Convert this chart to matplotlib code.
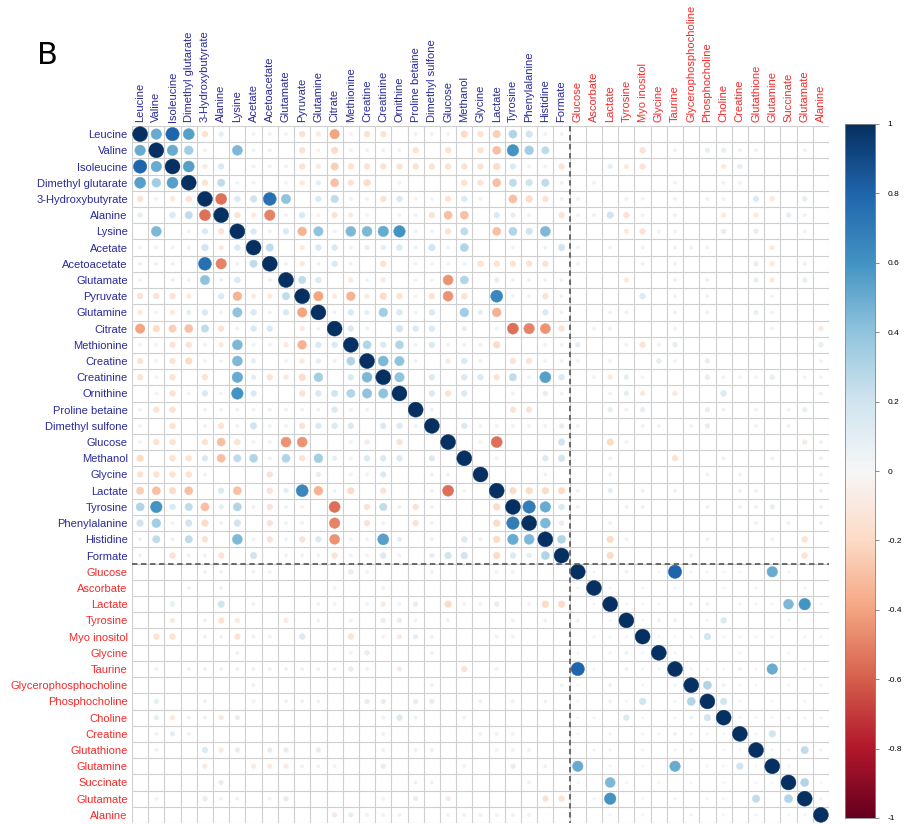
import numpy as np
import matplotlib
matplotlib.use("Agg")
import matplotlib.pyplot as plt
from matplotlib.patches import Circle
from matplotlib.colors import Normalize

blue_names = ["Leucine", "Valine", "Isoleucine", "Dimethyl glutarate", "3-Hydroxybutyrate",
              "Alanine", "Lysine", "Acetate", "Acetoacetate", "Glutamate", "Pyruvate",
              "Glutamine", "Citrate", "Methionine", "Creatine", "Creatinine", "Ornithine",
              "Proline betaine", "Dimethyl sulfone", "Glucose", "Methanol", "Glycine",
              "Lactate", "Tyrosine", "Phenylalanine", "Histidine", "Formate"]
red_names = ["Glucose", "Ascorbate", "Lactate", "Tyrosine", "Myo inositol", "Glycine",
             "Taurine", "Glycerophosphocholine", "Phosphocholine", "Choline", "Creatine",
             "Glutathione", "Glutamine", "Succinate", "Glutamate", "Alanine"]

# lower triangle of the correlation matrix, row i holds columns 0..i-1
lower = [
    [],
    [.5],
    [.8, .5],
    [.55, .35, .55],
    [-.15, -.05, -.1, -.15],
    [.1, 0, .15, .25, -.55],
    [0, .45, 0, .05, .15, -.15],
    [-.05, .05, -.05, .05, .2, -.1, .15],
    [.05, .05, .05, 0, .75, -.5, .05, .25],
    [-.05, 0, .05, -.05, .4, .05, .15, 0, .05],
    [-.15, -.15, -.15, -.1, 0, .15, -.35, -.1, -.1, .25],
    [-.1, -.05, -.1, .1, .15, -.05, .4, .15, .05, .15, -.4],
    [-.4, -.2, -.25, -.3, .25, -.15, .05, .15, .15, 0, -.1, .05],
    [-.05, .05, -.15, -.15, .05, -.1, .45, .05, .05, -.1, -.35, .15, .15],
    [-.15, .05, -.15, -.2, .05, -.05, .45, .1, 0, .05, -.1, .1, .05, .3],
    [-.15, .05, -.15, 0, -.15, 0, .5, .1, -.15, -.1, -.2, .35, 0, .15, .45],
    [0, .05, -.15, -.05, .15, -.05, .6, .15, 0, 0, -.15, .15, .2, .3, .4, .4],
    [-.05, -.15, -.15, 0, -.05, .05, .05, .05, .05, .05, -.05, .05, .15, .05, .05, 0, 0],
    [-.05, 0, -.15, 0, .05, -.15, .05, .2, .05, .05, -.15, .15, .15, .15, 0, .15, .15, .05],
    [-.05, -.15, -.15, 0, -.15, -.3, -.15, .05, .05, -.45, -.45, 0, 0, .05, -.1, 0, -.15, 0, 0],
    [-.2, 0, -.15, -.15, .15, -.3, .25, .3, .05, .3, -.15, .35, .1, .05, .15, .15, .15, 0, .15, 0],
    [-.15, -.15, -.15, -.15, -.05, 0, 0, 0, -.15, 0, 0, .1, 0, .05, .05, .15, 0, 0, .05, -.05, 0],
    [-.25, -.3, -.2, -.3, 0, .15, -.3, 0, -.15, .1, .65, -.35, .05, -.2, 0, -.15, 0, 0, .05, -.55,
     -.05, 0],
    [.3, .6, .15, .25, -.3, .1, .3, -.05, -.15, .05, -.05, 0, -.55, 0, -.15, .25, .05, -.15, .05, 0,
     0, 0, -.2],
    [.2, .35, .05, .2, -.2, .05, .2, 0, -.15, .05, -.05, 0, -.5, 0, -.15, .05, 0, -.15, .05, 0,
     0, 0, -.2, .7],
    [.05, .25, .05, .25, -.15, 0, .45, .05, -.15, .05, -.15, .15, -.45, .05, .05, .55, .1, 0, .05, 0,
     .15, .05, -.2, .5, .45],
    [.05, 0, -.15, .05, .05, -.15, 0, .2, 0, -.05, -.05, .05, -.15, .05, -.05, .15, -.05, 0, .1, .2,
     .2, 0, -.2, .15, .1, .3],
    # red block rows: 27 blue columns, then red columns
    [0, 0, 0, 0, .05, -.05, 0, .05, -.05, 0, 0, 0, 0, .1, .05, 0, 0, 0, .05, 0, 0, 0, -.05, .05, 0, 0, 0],
    [0, 0, 0, .05, 0, .05, 0, 0, 0, 0, 0, 0, -.05, 0, 0, .05, 0, 0, 0, 0, 0, 0, 0, 0, 0, 0, 0,
     .03],
    [0, 0, .1, 0, 0, .2, 0, .05, 0, 0, 0, .05, .05, 0, .05, -.1, .05, .1, 0, -.2, .05, .05, .1, 0, .05, -.2, -.2,
     0, .03],
    [0, 0, -.1, 0, .05, -.15, -.1, 0, 0, -.1, 0, .05, 0, .05, 0, .1, .1, -.05, 0, .05, 0, 0, 0, .05, 0, .05, 0,
     .05, 0, .03],
    [0, -.15, -.15, 0, -.05, .05, -.15, .05, -.05, 0, .15, 0, 0, -.15, 0, -.05, -.1, .1, .05, 0, 0, 0, .05, -.05, 0, 0, 0,
     0, .03, .03, .03],
    [0, 0, 0, 0, 0, 0, .05, 0, 0, 0, 0, 0, 0, -.05, .1, 0, 0, 0, .05, 0, 0, 0, 0, 0, 0, 0, 0,
     .03, 0, .03, .05, .03],
    [0, .05, 0, .05, .05, .05, .05, .05, -.05, .05, .05, .05, .05, .1, .05, 0, -.1, 0, 0, 0, -.15, 0, .05, 0, 0, 0, 0,
     .8, .03, 0, .05, .03, .03],
    [0, 0, 0, 0, 0, 0, 0, .05, 0, 0, 0, 0, 0, 0, 0, 0, 0, 0, .05, 0, 0, 0, 0, 0, 0, 0, .05,
     .03, 0, .05, 0, .03, 0, .03],
    [0, .1, 0, 0, .05, 0, 0, .05, 0, .05, .05, .05, 0, 0, .1, .1, 0, .1, .1, 0, 0, .05, 0, .05, 0, .05, 0,
     .03, 0, .05, .03, .2, 0, .03, .3],
    [0, .1, -.1, .05, .05, -.1, .1, 0, 0, 0, 0, 0, 0, 0, 0, .05, .15, .05, 0, 0, .05, 0, 0, 0, 0, 0, 0,
     .03, .03, 0, .15, .03, 0, .03, .05, .2],
    [0, .05, .1, .05, 0, 0, 0, 0, 0, 0, 0, 0, 0, 0, 0, .05, 0, 0, 0, 0, 0, .05, .05, .05, 0, 0, 0,
     .03, 0, .03, 0, .03, .03, .05, .03, .03, .03],
    [0, .05, 0, 0, .15, -.1, .1, 0, .1, .1, 0, .1, 0, 0, 0, .05, 0, .05, .05, 0, 0, 0, -.05, .05, .05, 0, 0,
     0, .03, .03, 0, .03, 0, .03, .03, 0, .03, .03],
    [0, 0, 0, 0, -.1, 0, 0, -.1, -.1, -.1, -.05, .05, -.05, 0, 0, .1, 0, 0, 0, 0, .05, 0, 0, .1, 0, .05, 0,
     .5, 0, .03, 0, .03, 0, .5, 0, .03, .03, .2, .03],
    [0, 0, 0, 0, 0, .1, 0, 0, 0, 0, 0, 0, 0, 0, 0, 0, 0, .05, .05, 0, 0, 0, 0, 0, .05, 0, 0,
     .03, 0, .45, .03, 0, .03, 0, .03, 0, .03, 0, .03, .03],
    [0, .05, 0, 0, .1, .05, .05, 0, .05, .1, 0, 0, 0, 0, 0, -.05, 0, .1, 0, -.1, 0, 0, 0, 0, 0, -.15, -.15,
     0, .03, .6, 0, .03, 0, .03, 0, .03, .03, 0, .25, 0, .3],
    [0, 0, 0, 0, 0, 0, 0, 0, 0, 0, 0, 0, -.1, .1, .05, .05, .05, 0, 0, .05, .05, .05, .05, .05, .05, 0, 0,
     0, 0, .03, 0, .03, 0, 0, .03, 0, .03, 0, .03, 0, .03, .03],
]

names = blue_names + red_names
n = len(names)
corr = np.eye(n)
for i, row in enumerate(lower):
    assert len(row) == i, (i, len(row))
    for j, v in enumerate(row):
        corr[i, j] = v
        corr[j, i] = v

blue_col = "#2a2a9a"
red_col = "#f52a2a"
label_cols = [blue_col] * len(blue_names) + [red_col] * len(red_names)

plt.rcParams["font.family"] = ["Liberation Sans", "DejaVu Sans"]
fig = plt.figure(figsize=(9.12, 8.24), dpi=100)
ax = fig.add_axes([132 / 912, 1 / 824, 697 / 912, 697 / 824])
cmap = plt.get_cmap("RdBu")
norm = Normalize(-1, 1)

for k in range(n + 1):
    ax.plot([k - 0.5, k - 0.5], [-0.5, n - 0.5], color="#cfcfcf", lw=0.8, zorder=1)
    ax.plot([-0.5, n - 0.5], [k - 0.5, k - 0.5], color="#cfcfcf", lw=0.8, zorder=1)

for i in range(n):
    for j in range(n):
        v = corr[i, j]
        if v == 0:
            continue
        c = cmap(norm(v))
        ax.add_patch(Circle((j, i), 0.46 * np.sqrt(abs(v)), facecolor=c, edgecolor=c,
                            lw=0.3, zorder=3))

nb = len(blue_names)
ax.plot([nb - 0.5, nb - 0.5], [-0.5, n - 0.5], color="#606060", lw=1.3,
        linestyle=(0, (3, 2)), zorder=4)
ax.plot([-0.5, n - 0.5], [nb - 0.5, nb - 0.5], color="#606060", lw=1.3,
        linestyle=(0, (3, 2)), zorder=4)

ax.set_xlim(-0.5, n - 0.5)
ax.set_ylim(n - 0.5, -0.5)
ax.set_xticks(range(n))
ax.set_yticks(range(n))
ax.set_xticklabels(names, rotation=90, fontsize=8)
ax.set_yticklabels(names, fontsize=8)
ax.xaxis.tick_top()
ax.tick_params(length=0, pad=3)
for t, c in zip(ax.get_xticklabels(), label_cols):
    t.set_color(c)
for t, c in zip(ax.get_yticklabels(), label_cols):
    t.set_color(c)
for s in ax.spines.values():
    s.set_visible(False)

cax = fig.add_axes([845 / 912, 6 / 824, 30 / 912, 694 / 824])
grad = np.linspace(-1, 1, 256).reshape(-1, 1)
cax.imshow(grad, cmap=cmap, norm=norm, aspect="auto", origin="lower", extent=[0, 1, -1, 1])
cax.set_xticks([])
cax.yaxis.tick_right()
ticks = np.round(np.linspace(-1, 1, 11), 1)
cax.set_yticks(ticks)
cax.set_yticklabels(["%g" % t for t in ticks], fontsize=6)
cax.tick_params(axis="y", length=3, width=0.6, color="#777777", pad=6)
for s in cax.spines.values():
    s.set_color("#888888")
    s.set_linewidth(0.6)

fig.text(37 / 912, 1 - 55 / 824, "B", fontsize=22, va="center", ha="left",
         family="DejaVu Sans")

fig.savefig("out.png", dpi=100)
